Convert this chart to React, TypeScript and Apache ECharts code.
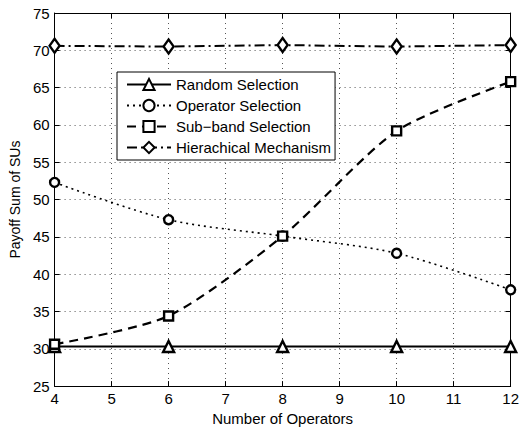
import React, { useEffect, useRef } from "react";
import * as echarts from "echarts";

const operators = [4, 6, 8, 10, 12];
const randomSel = [30.3, 30.3, 30.3, 30.3, 30.3];
const operatorSel = [52.3, 47.3, 45.1, 42.8, 37.9];
const subbandSel = [30.6, 34.4, 45.1, 59.2, 65.8];
const hierarchical = [70.6, 70.5, 70.7, 70.5, 70.7];

const FONT = "Liberation Sans, Arial, Helvetica, sans-serif";

export default function App() {
  const ref = useRef<HTMLDivElement>(null);
  useEffect(() => {
    if (!ref.current) return;
    const chart = echarts.init(ref.current, null, { renderer: "svg" });
    const mk = (vals: number[]) => operators.map((x, i) => [x, vals[i]]);
    const markerStyle = { color: "#fff", borderColor: "#000", borderWidth: 2.4 };
    const grid = { left: 54, right: 7, top: 13, bottom: 39 };
    chart.setOption({
      animation: false,
      backgroundColor: "#fff",
      textStyle: { fontFamily: FONT },
      grid,
      xAxis: [
        {
          type: "value",
          min: 4,
          max: 12,
          interval: 1,
          name: "Number of Operators",
          nameLocation: "middle",
          nameGap: 23,
          nameTextStyle: { color: "#000", fontSize: 15, fontFamily: FONT },
          axisLine: { show: true, lineStyle: { color: "#000", width: 1 } },
          axisTick: { show: true, inside: true, length: 5, lineStyle: { color: "#000" } },
          axisLabel: { color: "#000", fontSize: 15, margin: 5, fontFamily: FONT },
          splitLine: { show: true, lineStyle: { color: "#555", type: [1, 4], width: 1 } },
        },
        {
          type: "value",
          position: "top",
          min: 4,
          max: 12,
          interval: 1,
          axisLine: { show: true, lineStyle: { color: "#000", width: 1 } },
          axisTick: { show: true, inside: true, length: 5, lineStyle: { color: "#000" } },
          axisLabel: { show: false },
          splitLine: { show: false },
        },
      ],
      yAxis: [
        {
          type: "value",
          min: 25,
          max: 75,
          interval: 5,
          name: "Payoff Sum of SUs",
          nameLocation: "middle",
          nameGap: 29,
          nameTextStyle: { color: "#000", fontSize: 14, fontFamily: FONT },
          axisLine: { show: true, lineStyle: { color: "#000", width: 1 } },
          axisTick: { show: true, inside: true, length: 5, lineStyle: { color: "#000" } },
          axisLabel: { color: "#000", fontSize: 15, margin: 5, fontFamily: FONT },
          splitLine: { show: true, lineStyle: { color: "#555", type: [1, 4], width: 1 } },
        },
        {
          type: "value",
          position: "right",
          min: 25,
          max: 75,
          interval: 5,
          axisLine: { show: true, lineStyle: { color: "#000", width: 1 } },
          axisTick: { show: true, inside: true, length: 5, lineStyle: { color: "#000" } },
          axisLabel: { show: false },
          splitLine: { show: false },
        },
      ],
      legend: {
        left: 117,
        top: 72,
        orient: "vertical",
        backgroundColor: "#fff",
        borderColor: "#000",
        borderWidth: 1,
        borderRadius: 0,
        padding: [5, 4, 5, 9],
        itemGap: 6,
        itemWidth: 44,
        itemHeight: 14,
        textStyle: { color: "#000", fontSize: 15, fontFamily: FONT },
        data: ["Random Selection", "Operator Selection", "Sub\u2212band Selection", "Hierachical Mechanism"],
      },
      series: [
        {
          name: "Random Selection",
          type: "line",
          data: mk(randomSel),
          symbol: "triangle",
          symbolSize: 11,
          lineStyle: { color: "#000", width: 2, type: "solid" },
          itemStyle: markerStyle,
          z: 3,
        },
        {
          name: "Operator Selection",
          type: "line",
          data: mk(operatorSel),
          smooth: 0.3,
          symbol: "circle",
          symbolSize: 9,
          lineStyle: { color: "#000", width: 1.6, type: [2, 4] },
          itemStyle: markerStyle,
          z: 3,
        },
        {
          name: "Sub\u2212band Selection",
          type: "line",
          data: mk(subbandSel),
          smooth: 0.25,
          symbol: "rect",
          symbolSize: 9,
          lineStyle: { color: "#000", width: 2.2, type: [9, 6] },
          itemStyle: markerStyle,
          z: 3,
        },
        {
          name: "Hierachical Mechanism",
          type: "line",
          data: mk(hierarchical),
          symbol: "diamond",
          symbolSize: [10, 14],
          lineStyle: { color: "#000", width: 2, type: [10, 4, 2, 4] },
          itemStyle: markerStyle,
          z: 3,
        },
      ],
    });
    return () => chart.dispose();
  }, []);
  return (
    <div
      ref={ref}
      style={{ position: "absolute", left: 0, top: 0, width: 522, height: 431 }}
    />
  );
}
